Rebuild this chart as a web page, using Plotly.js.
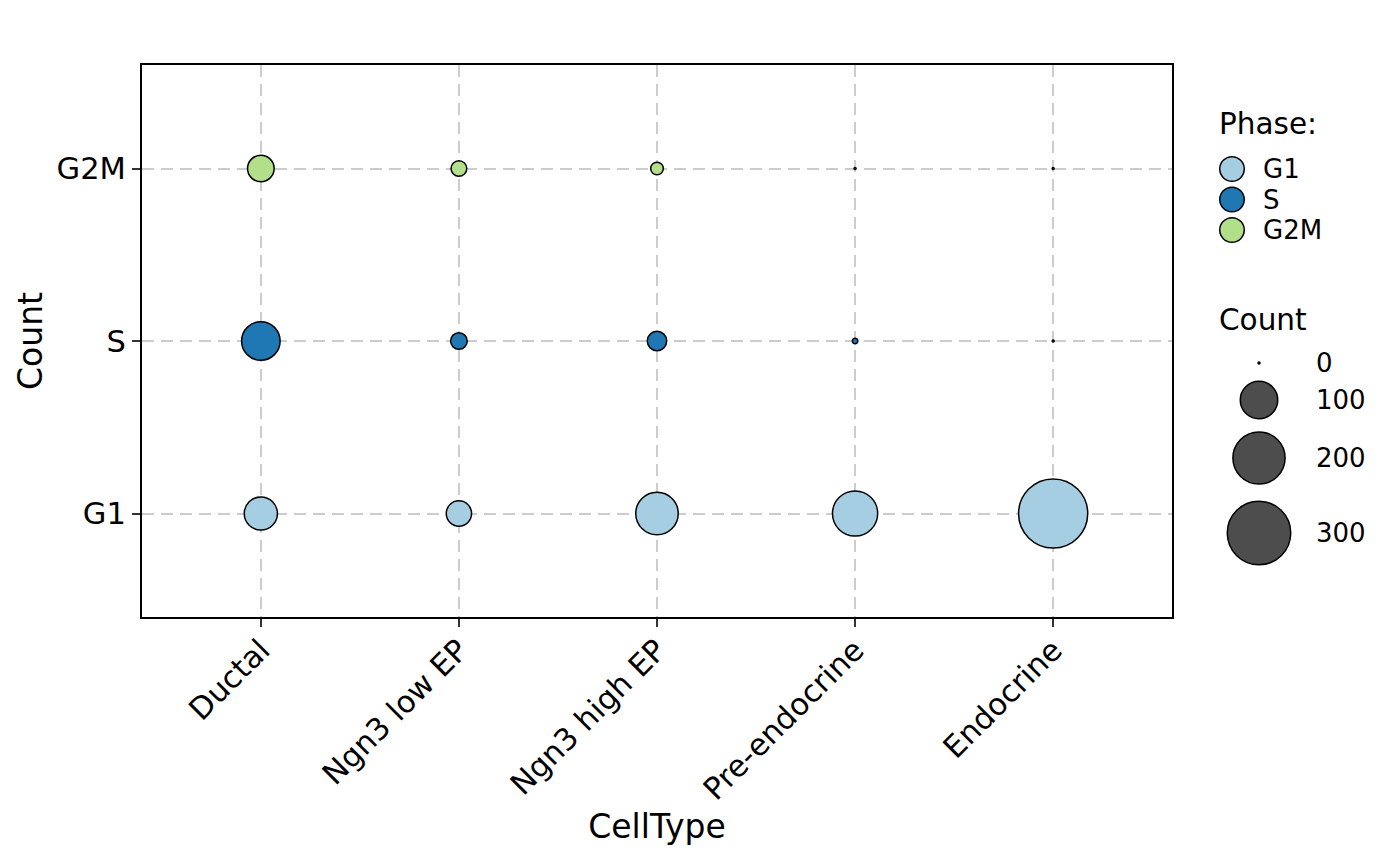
<!DOCTYPE html>
<html>
<head>
<meta charset="utf-8">
<script src="https://cdn.plot.ly/plotly-3.0.1.min.js"></script>
<style>html,body{margin:0;padding:0;background:#fff;}#chart{width:1400px;height:866px;}</style>
</head>
<body>
<div id="chart"></div>
<script>
// ---------------- data ----------------
const cellTypes = ['Ductal', 'Ngn3 low EP', 'Ngn3 high EP', 'Pre-endocrine', 'Endocrine'];
const phases = ['G1', 'S', 'G2M'];
const countG1 = [77, 43, 130, 148, 358];
const countS = [106, 17, 24, 1, 0];
const countG2M = [48, 15, 9, 0, 0];
const phaseColors = ['#a6cee3', '#1f78b4', '#b2df8a'];
const sizeBreaks = [0, 100, 200, 300];
const sizeBreakLabels = ['0', '100', '200', '300'];

// ---------------- style ----------------
const FONT = 'DejaVu Sans, sans-serif';
const LW = 1.5;
function sizePx(c) { return 2.0 + 3.55 * Math.sqrt(c); }

const W = 1400, H = 866;
const M = {l: 142, r: 0, t: 65, b: 249};
const plotW = W - M.l - M.r;
const mainRight = 1172;
const legLeft = 1190;

const counts = [countG1, countS, countG2M];
const traces = [];
phases.forEach((p, i) => {
  traces.push({
    type: 'scatter', mode: 'markers',
    x: cellTypes, y: cellTypes.map(() => p),
    name: p, showlegend: false, hoverinfo: 'skip', cliponaxis: false,
    xaxis: 'x', yaxis: 'y',
    marker: {
      color: phaseColors[i], size: counts[i].map(sizePx), sizemode: 'diameter',
      line: {color: '#000000', width: LW}, opacity: 1
    }
  });
});

// legend drawn in a helper subplot whose units are pixels
const phaseKeyX = 1232, phaseKeyY0 = 169, phaseKeyDy = 30.5;
const sizeKeyX = 1259, sizeKeyYs = [363, 400, 458, 533];
traces.push({
  type: 'scatter', mode: 'markers', xaxis: 'x2', yaxis: 'y2', showlegend: false, hoverinfo: 'skip', cliponaxis: false,
  x: phases.map(() => phaseKeyX), y: phases.map((p, i) => phaseKeyY0 + i * phaseKeyDy),
  marker: {color: phaseColors, size: 24.5, opacity: 1, line: {color: '#000', width: LW}}
});
traces.push({
  type: 'scatter', mode: 'markers', xaxis: 'x2', yaxis: 'y2', showlegend: false, hoverinfo: 'skip', cliponaxis: false,
  x: sizeBreaks.map(() => sizeKeyX), y: sizeBreaks.map((b, i) => sizeKeyYs[i]),
  marker: {color: '#4d4d4d', size: sizeBreaks.map(sizePx), opacity: 1, line: {color: '#000', width: LW}}
});

const annotations = [];
annotations.push({xref: 'x2', yref: 'y2', x: 1217, y: 124, text: 'Phase:', showarrow: false, xanchor: 'left', yanchor: 'middle', font: {family: FONT, size: 29.5, color: '#000'}});
phases.forEach((p, i) => annotations.push({xref: 'x2', yref: 'y2', x: 1261, y: phaseKeyY0 + i * phaseKeyDy, text: p, showarrow: false, xanchor: 'left', yanchor: 'middle', font: {family: FONT, size: 26, color: '#000'}}));
annotations.push({xref: 'x2', yref: 'y2', x: 1217, y: 320, text: 'Count', showarrow: false, xanchor: 'left', yanchor: 'middle', font: {family: FONT, size: 29.5, color: '#000'}});
sizeBreakLabels.forEach((t, i) => annotations.push({xref: 'x2', yref: 'y2', x: 1314, y: sizeKeyYs[i], text: t, showarrow: false, xanchor: 'left', yanchor: 'middle', font: {family: FONT, size: 26, color: '#000'}}));

const axisCommon = {
  showline: true, mirror: true, linecolor: '#000000', linewidth: 2,
  showgrid: true, gridcolor: '#cccccc', gridwidth: 2, griddash: '12px,7px',
  zeroline: false, ticks: 'outside', ticklen: 8, tickwidth: 2, tickcolor: '#333333',
  tickfont: {family: FONT, size: 30.5, color: '#000'}, fixedrange: true, automargin: false
};

const layout = {
  width: W, height: H, margin: M,
  paper_bgcolor: '#ffffff', plot_bgcolor: '#ffffff',
  font: {family: FONT, color: '#000'},
  showlegend: false,
  xaxis: Object.assign({}, axisCommon, {
    type: 'category', categoryorder: 'array', categoryarray: cellTypes,
    range: [-0.6, cellTypes.length - 0.4], domain: [0, (mainRight - M.l) / plotW],
    tickangle: -45, anchor: 'y', ticklabelstandoff: -7,
    title: {text: 'CellType', font: {family: FONT, size: 33, color: '#000'}, standoff: 8}
  }),
  yaxis: Object.assign({}, axisCommon, {
    type: 'category', categoryorder: 'array', categoryarray: phases,
    range: [-0.6, phases.length - 0.4], domain: [0, 1], anchor: 'x',
    title: {text: 'Count', font: {family: FONT, size: 33, color: '#000'}, standoff: 4}
  }),
  xaxis2: {domain: [(legLeft - M.l) / plotW, 1], range: [legLeft, W - M.r], anchor: 'y2', visible: false, fixedrange: true},
  yaxis2: {domain: [0, 1], range: [H - M.b, M.t], anchor: 'x2', visible: false, fixedrange: true},
  annotations: annotations
};

Plotly.newPlot('chart', traces, layout, {staticPlot: true, displayModeBar: false});
</script>
</body>
</html>
